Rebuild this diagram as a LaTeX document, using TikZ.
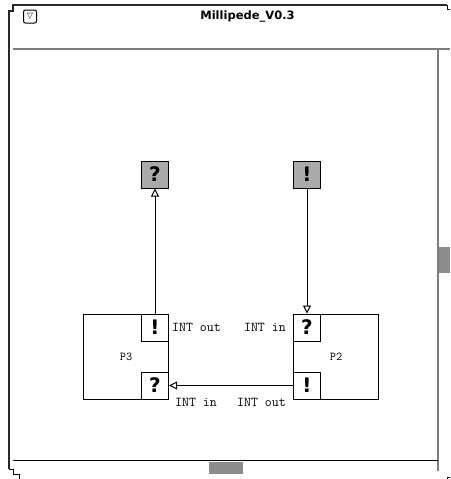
\documentclass[tikz,border=0pt]{standalone}
\usepackage{fontspec}
\newfontfamily\uifont{DejaVu Sans}
\usetikzlibrary{arrows.meta,positioning}
\definecolor{framedark}{RGB}{40,40,40}
\definecolor{scrollgray}{RGB}{125,125,125}
\definecolor{thumbgray}{RGB}{140,140,140}
\definecolor{stipple}{RGB}{170,170,170}

\begin{document}
\begin{tikzpicture}[
  x=1pt, y=1pt,
  node distance=124pt,
  proc/.style={
    draw,
    line width=1pt,
    minimum width=85pt,
    minimum height=85pt,
    inner sep=0pt,
    font=\fontsize{12}{14}\ttfamily
  },
  port/.style={
    draw,
    fill=white,
    line width=1pt,
    minimum size=27pt,
    inner sep=0pt,
    font=\fontsize{20}{20}\uifont\bfseries
  },
  ext/.style={port,fill=stipple},
  lbl/.style={font=\fontsize{13.5}{15}\ttfamily,inner sep=0pt},
  flow/.style={line width=1pt,-{Triangle[open,length=8pt,width=8pt]}},
  rim/.style={line width=2pt,framedark}
]
\useasboundingbox (0,0) rectangle (450,-479);

% window
\draw[rim] (9,-469) -- (9,-11) -- (13,-11) -- (13,-5) -- (447,-5);
\draw[line width=1pt] (447,-5) -- (447,-9) -- (450,-9);
\draw[line width=1pt] (9,-469) -- (13,-469) -- (13,-474) -- (19,-474) -- (19,-479);
\draw[line width=1pt] (447,-479) -- (447,-477) -- (450,-477);
\draw[scrollgray,line width=2pt] (13,-49) -- (450,-49);
\draw[scrollgray,line width=2pt] (438,-49) -- (438,-471);
\draw[line width=1pt] (13,-460) -- (438,-460);
\fill[thumbgray] (209,-462) rectangle (243,-474);
\fill[thumbgray] (439,-247) rectangle (450,-273);
\node[draw,rounded corners=2pt,line width=1pt,minimum size=13pt,inner sep=0pt,
  font=\fontsize{8}{8}\uifont] (menu) at (30,-16.5) {▽};
\node[font=\fontsize{11.5}{12}\uifont\bfseries] (title) at (247.5,-16) {Millipede\_V0.3};

% processes
\node[proc] (p3) at (126,-356.5) {P3};
\node[proc,right=of p3] (p2) {P2};
\node[port,anchor=north east] (p3out) at (p3.north east) {!};
\node[port,anchor=south east] (p3in) at (p3.south east) {?};
\node[port,anchor=north west] (p2in) at (p2.north west) {?};
\node[port,anchor=south west] (p2out) at (p2.south west) {!};
\node[ext,above=125pt of p3out] (want) {?};
\node[ext,above=125pt of p2in] (give) {!};

\draw[flow] (p3out.north) -- (want.south);
\draw[flow] (give.south) -- (p2in.north);
\draw[flow] (p2out.west) -- (p3in.east);

\node[lbl,right=3pt of p3out] (outa) {INT out};
\node[lbl,left=7pt of p2in] (ina) {INT in};
\node[lbl,anchor=west] (inb) at ([shift={(6pt,-3pt)}]p3in.south east) {INT in};
\node[lbl,anchor=east] (outb) at ([shift={(-7pt,-3pt)}]p2out.south west) {INT out};
\end{tikzpicture}
\end{document}
